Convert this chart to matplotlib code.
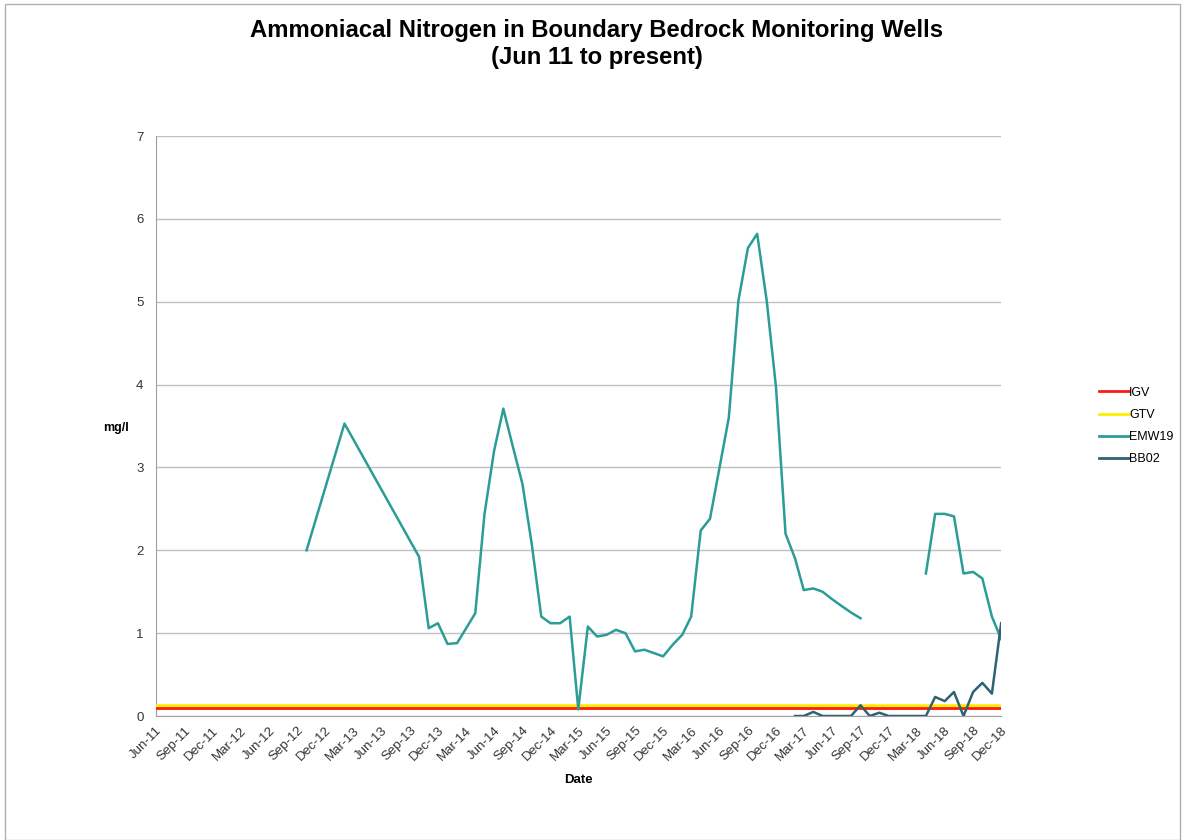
import matplotlib
matplotlib.use("Agg")
import matplotlib.pyplot as plt
import matplotlib.dates as mdates
from matplotlib.lines import Line2D
import numpy as np
import pandas as pd

plt.rcParams['font.family'] = ['Liberation Sans', 'DejaVu Sans']

# EMW19 monthly samples (None = no sample, breaks the line)
emw19_dates = ["2012-10", "2013-02", "2013-10", "2013-11", "2013-12", "2014-01", "2014-02",
               "2014-03", "2014-04", "2014-05", "2014-06", "2014-07", "2014-08", "2014-09",
               "2014-10", "2014-11", "2014-12", "2015-01", "2015-02", "2015-03", "2015-04",
               "2015-05", "2015-06", "2015-07", "2015-08", "2015-09", "2015-10", "2015-11",
               "2015-12", "2016-01", "2016-02", "2016-03", "2016-04", "2016-05", "2016-06",
               "2016-07", "2016-08", "2016-09", "2016-10", "2016-11", "2016-12", "2017-01",
               "2017-02", "2017-03", "2017-04", "2017-05", "2017-06", "2017-07", "2017-08",
               "2017-09", "2017-10", "2018-04", "2018-05", "2018-06", "2018-07", "2018-08",
               "2018-09", "2018-10", "2018-11", "2018-12"]
emw19_vals = [2.0, 3.53, 1.92, 1.06, 1.12, 0.87, 0.88,
              1.05, 1.24, 2.44, 3.2, 3.71, 3.25, 2.8,
              2.08, 1.2, 1.12, 1.12, 1.2, 0.08, 1.08,
              0.96, 0.98, 1.04, 1.0, 0.78, 0.8, 0.76,
              0.72, 0.86, 0.98, 1.2, 2.24, 2.38, 3.0,
              3.6, 5.01, 5.65, 5.82, 5.01, 3.97, 2.2,
              1.9, 1.52, 1.54, 1.5, 1.41, 1.33, 1.25,
              1.18, None, 1.72, 2.44, 2.44, 2.41, 1.72,
              1.74, 1.66, 1.2, 0.93]

bb02_dates = ["2017-02", "2017-03", "2017-04", "2017-05", "2017-06", "2017-07", "2017-08",
              "2017-09", "2017-10", "2017-11", "2017-12", "2018-01", "2018-02", "2018-03",
              "2018-04", "2018-05", "2018-06", "2018-07", "2018-08", "2018-09", "2018-10",
              "2018-11", "2018-12"]
bb02_vals = [0.0, 0.0, 0.05, 0.0, 0.0, 0.0, 0.0,
             0.13, 0.0, 0.04, 0.0, 0.0, 0.0, 0.0,
             0.0, 0.23, 0.18, 0.29, 0.0, 0.29, 0.4,
             0.27, 1.12]

igv = 0.1
gtv = 0.11
start, end = "2011-06", "2018-12"

emw = pd.Series(emw19_vals, index=pd.to_datetime(emw19_dates), dtype=float)
bb = pd.Series(bb02_vals, index=pd.to_datetime(bb02_dates), dtype=float)
x0, x1 = pd.to_datetime(start), pd.to_datetime(end)

c_igv, c_gtv, c_emw, c_bb = '#ff1a1a', '#ffee00', '#2c9c96', '#2f6272'

fig = plt.figure(figsize=(11.82, 8.4), dpi=100)
ax = fig.add_axes([0.132, 0.1476, 0.715, 0.6904])

ax.plot([x0, x1], [gtv, gtv], color=c_gtv, lw=4, zorder=3)
ax.plot([x0, x1], [igv, igv], color=c_igv, lw=2, zorder=4)
ax.plot(emw.index, emw.values, color=c_emw, lw=1.8, zorder=5)
ax.plot(bb.index, bb.values, color=c_bb, lw=1.8, zorder=5)

ax.set_xlim(x0, x1)
ax.set_ylim(0, 7)
ax.set_yticks(range(0, 8))
ax.yaxis.grid(True, color='#c0c0c0', lw=1)
ax.set_axisbelow(True)
ax.xaxis.set_major_locator(mdates.MonthLocator(bymonth=[3, 6, 9, 12]))
ax.xaxis.set_major_formatter(mdates.DateFormatter('%b-%y'))
plt.setp(ax.get_xticklabels(), rotation=45, ha='right', rotation_mode='anchor')
ax.tick_params(axis='both', length=0, labelsize=9.5, colors='#333333')
ax.tick_params(axis='y', pad=9)
ax.tick_params(axis='x', pad=6)
for s in ['top', 'right']:
    ax.spines[s].set_visible(False)
for s in ['left', 'bottom']:
    ax.spines[s].set_color('#a0a0a0')

ax.set_xlabel('Date', fontsize=9.5, fontweight='bold', labelpad=8)
fig.text(0.098, 0.49, 'mg/l', fontsize=9, fontweight='bold', ha='center', va='center')

fig.text(0.505, 0.964, 'Ammoniacal Nitrogen in Boundary Bedrock Monitoring Wells',
         fontsize=17.2, fontweight='bold', ha='center', va='center')
fig.text(0.505, 0.932, '(Jun 11 to present)', fontsize=17.2, fontweight='bold',
         ha='center', va='center')

handles = [Line2D([], [], color=c, lw=2) for c in [c_igv, c_gtv, c_emw, c_bb]]
ax.legend(handles, ['IGV', 'GTV', 'EMW19', 'BB02'], loc='center left',
          bbox_to_anchor=(1.102, 0.5), frameon=False, fontsize=9,
          handlelength=2.4, handletextpad=0.05, labelspacing=0.82)

fig.patches.append(plt.Rectangle((0.004, 0.0), 0.994, 0.995, transform=fig.transFigure,
                                 fill=False, edgecolor='#b0b0b0', lw=1))

fig.savefig('out.png', dpi=100)
